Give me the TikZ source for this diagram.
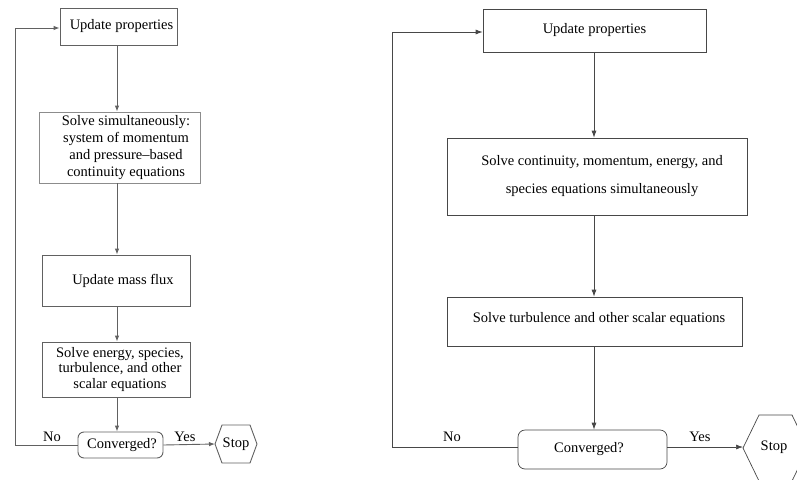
\documentclass[tikz,border=0pt]{standalone}
\usepackage{fontspec}
\setmainfont{Liberation Serif}
\usetikzlibrary{arrows.meta}
\begin{document}
\begin{tikzpicture}[x=1pt,y=-1pt,
  txt/.style={font=\fontsize{14.5}{17}\selectfont, align=center, inner sep=0pt},
  boxL/.style={draw=black!62, line width=0.9pt, inner sep=0pt},
  boxR/.style={draw=black!72, line width=0.7pt, inner sep=0pt},
  flowL/.style={draw=black!62, line width=0.9pt, -{Latex[length=6pt,width=4.5pt]}},
  flowR/.style={draw=black!72, line width=0.7pt, -{Latex[length=7pt,width=5pt]}},
  lineL/.style={draw=black!62, line width=0.9pt},
  lineR/.style={draw=black!72, line width=0.7pt},
  decL/.style={boxL, rounded corners=6pt},
  decR/.style={boxR, rounded corners=7pt}]
\useasboundingbox (0,0) rectangle (797,479);
\fill[white] (0,0) rectangle (797,479);

% ---------------- left flowchart ----------------
\node[boxL, minimum width=117pt, minimum height=37pt,
  label={[txt, xshift=3pt]center:Update properties}] (upL) at (118.5,26.5) {};
\node[boxL, draw=black!45, minimum width=161pt, minimum height=71pt,
  label={[txt, xshift=6.5pt, font=\fontsize{14.5}{17.2}\selectfont]center:Solve simultaneously:\\system of momentum\\and pressure--based\\continuity equations}] (simL) at (119.5,147.5) {};
\node[boxL, minimum width=148pt, minimum height=51pt,
  label={[txt, xshift=7pt]center:Update mass flux}] (massL) at (116,280.5) {};
\node[boxL, minimum width=148pt, minimum height=55pt,
  label={[txt, xshift=4pt, font=\fontsize{14.5}{15.5}\selectfont]center:Solve energy, species,\\turbulence, and other\\scalar equations}] (enL) at (116,369.5) {};
\node[decL, minimum width=85pt, minimum height=26pt,
  label={[txt, xshift=1.5pt]center:Converged?}] (convL) at (120.5,445) {};
\node[txt] (stopL) at (236,444) {Stop};
\draw[lineL] (215,444) -- (222,425) -- (250,425) -- (257,444) -- (250,463) -- (222,463) -- cycle;
\coordinate (stopLw) at (215,444);
\coordinate (loopLb) at (15,445);
\coordinate (loopLt) at (15,28);

\draw[flowL] (upL.south -| 117,0) -- (simL.north -| 117,0);
\draw[flowL] (simL.south -| 117,0) -- (massL.north -| 117,0);
\draw[flowL] (massL.south -| 117,0) -- (enL.north -| 117,0);
\draw[flowL] (enL.south -| 117,0) -- (convL.north -| 117,0);
\draw[flowL] (convL.west) -- (loopLb) -- (loopLt) -- (upL.west |- loopLt);
\draw[flowL] (convL.east) -- (stopLw);
\node[txt] (noL) at (52,437) {No};
\node[txt] (yesL) at (185,437) {Yes};

% ---------------- right flowchart ----------------
\node[boxR, minimum width=223pt, minimum height=43pt,
  label={[txt]center:Update properties}] (upR) at (594.5,30.5) {};
\node[boxR, minimum width=300pt, minimum height=77pt,
  label={[txt, xshift=5pt, font=\fontsize{14.5}{28}\selectfont]center:Solve continuity, momentum, energy, and\\species equations simultaneously}] (sR) at (597,176.5) {};
\node[boxR, minimum width=295pt, minimum height=49pt,
  label={[txt, xshift=4.5pt, yshift=2pt]center:Solve turbulence and other scalar equations}] (tR) at (594.5,321.5) {};
\node[decR, minimum width=149pt, minimum height=39pt,
  label={[txt, xshift=-3.5pt]center:Converged?}] (convR) at (592.5,449.5) {};
\node[txt] (stopR) at (774,447) {Stop};
\draw[lineR] (743,448) -- (759,415) -- (792,415) -- (808,448) -- (792,481) -- (759,481) -- cycle;
\coordinate (stopRw) at (743,447);
\coordinate (loopRb) at (392,447);
\coordinate (loopRt) at (392,32);

\draw[flowR] (upR.south -| 594,0) -- (sR.north -| 594,0);
\draw[flowR] (sR.south -| 594,0) -- (tR.north -| 594,0);
\draw[flowR] (tR.south -| 594,0) -- (convR.north -| 594,0);
\draw[flowR] (convR.west |- loopRb) -- (loopRb) -- (loopRt) -- (upR.west |- loopRt);
\draw[flowR] (convR.east |- stopRw) -- (stopRw);
\node[txt] (noR) at (452,437) {No};
\node[txt] (yesR) at (700,437) {Yes};
\end{tikzpicture}
\end{document}
